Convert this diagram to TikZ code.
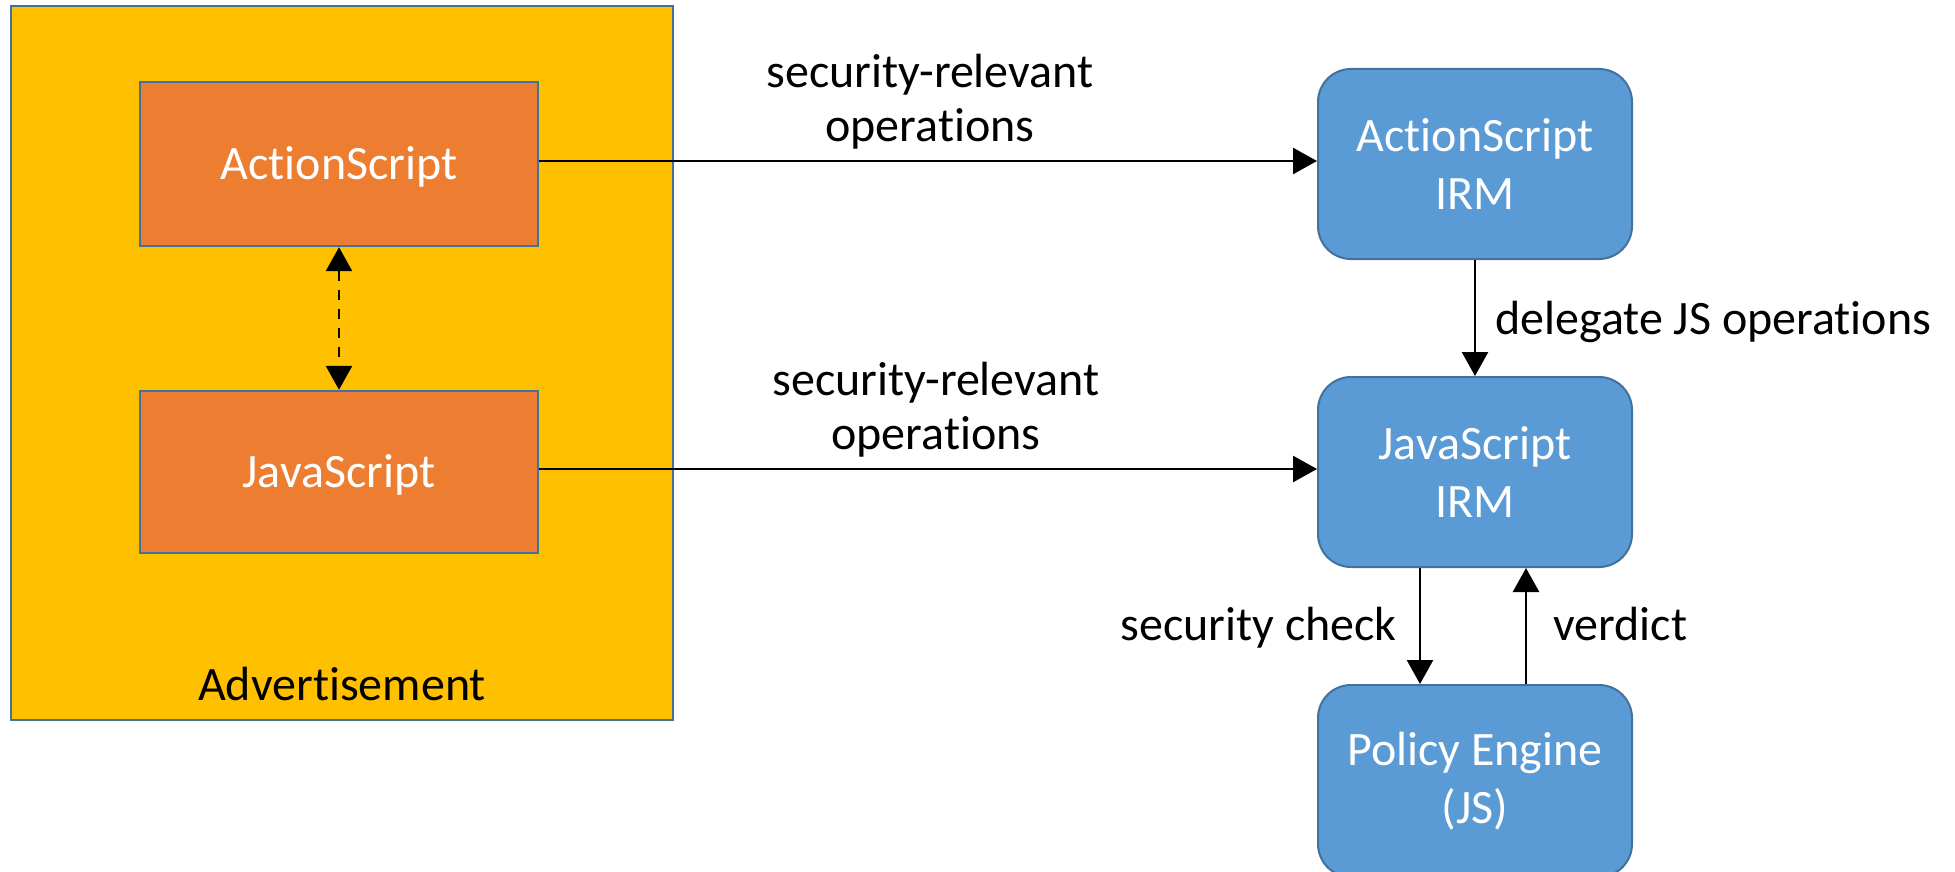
\documentclass[tikz,border=0pt]{standalone}
\usepackage{fontspec}
\setmainfont{Carlito}[Ligatures=NoCommon]
\usetikzlibrary{arrows.meta}

\definecolor{adyellow}{HTML}{FFC000}
\definecolor{scriptorange}{HTML}{ED7D31}
\definecolor{irmblue}{HTML}{5B9BD5}
\definecolor{edgeblue}{HTML}{41719C}

\tikzset{
  txt/.style={font=\fontsize{24}{29.3}\selectfont},
  adbox/.style={draw=edgeblue, line width=1pt, fill=adyellow, inner sep=0pt,
    minimum width=331pt, minimum height=357pt},
  scriptbox/.style={draw=edgeblue, line width=1.2pt, fill=scriptorange, inner sep=0pt,
    minimum width=199pt, text=white, txt, text height=18pt, text depth=2.5pt},
  irmbox/.style={draw=edgeblue, line width=1pt, fill=irmblue, rounded corners=16.5pt,
    inner sep=0pt, minimum width=157pt, minimum height=95pt, text=white, align=center, txt},
  arr/.style={line width=1.3pt, -{Triangle[width=13pt,length=12pt]}},
  lbl/.style={font=\fontsize{24}{27}\selectfont, inner sep=0pt, align=center}
}

\begin{document}
\begin{tikzpicture}[x=0.5pt, y=-0.5pt]
  % page area and white ground
  \useasboundingbox (0,0) rectangle (1955,872);
  \clip (0,0) rectangle (1955,872);
  \fill[white] (0,0) rectangle (1955,872);

  % advertisement container with its two scripts
  \node[adbox] (adv) at (342,363) {};
  \node[txt, anchor=base, inner sep=0pt] (advlabel) at (342,700) {Advertisement};
  \node[scriptbox, minimum height=82pt] (as) at (339,164) {ActionScript};
  \node[scriptbox, minimum height=81pt] (js) at (339,472) {JavaScript};

  % monitors and policy engine
  \node[irmbox] (asirm) at (1475,164) {ActionScript\\IRM};
  \node[irmbox] (jsirm) at (1475,472) {JavaScript\\IRM};
  \node[irmbox, minimum height=96pt] (pe) at (1475,781) {Policy Engine\\(JS)};

  % connectors
  \draw[line width=1.3pt, dash pattern=on 5pt off 4.5pt,
        {Triangle[width=13pt,length=12pt]}-{Triangle[width=13pt,length=12pt]}]
        (as.south) -- (js.north);
  \draw[arr] ([yshift=1.5pt]as.east) -- ([yshift=1.5pt]asirm.west);
  \draw[arr] ([yshift=1.5pt]js.east) -- ([yshift=1.5pt]jsirm.west);
  \draw[arr] (asirm.south) -- (jsirm.north);
  \draw[arr] ([xshift=-27.5pt]jsirm.south) -- ([xshift=-27.5pt]pe.north);
  \draw[arr] ([xshift=25.5pt]pe.north) -- ([xshift=25.5pt]jsirm.south);

  % connector labels
  \node[lbl] (l1) at (930,102) {security-relevant\\operations};
  \node[lbl] (l2) at (936,410) {security-relevant\\operations};
  \node[txt, inner sep=0pt, anchor=base west] (l3) at (1495,334) {delegate JS operations};
  \node[txt, inner sep=0pt, anchor=base east] (l4) at (1397,640) {security check};
  \node[txt, inner sep=0pt, anchor=base west] (l5) at (1553,640) {verdict};
\end{tikzpicture}
\end{document}
